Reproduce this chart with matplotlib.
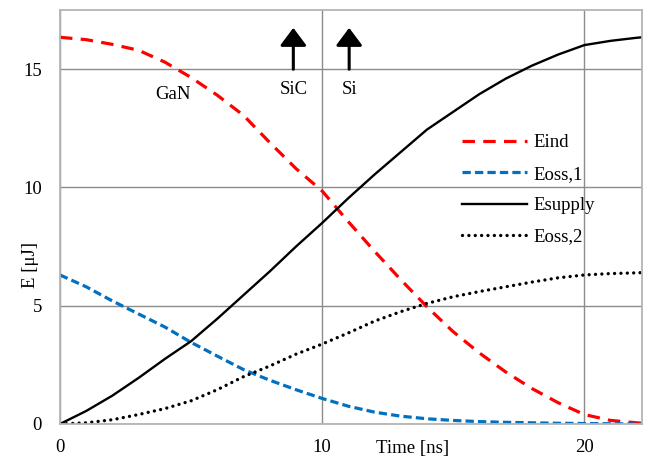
import matplotlib
matplotlib.use("Agg")
import matplotlib.pyplot as plt

plt.rcParams["font.family"] = ["Liberation Serif", "DejaVu Serif"]
plt.rcParams["font.size"] = 13.5

# Switching energies vs time (ns), values in uJ
t_ns = [0, 1, 2, 3, 4, 5, 6, 7, 8, 9, 10, 11, 12, 13, 14, 15, 16, 17, 18, 19, 20, 21, 22, 22.2]
e_ind = [16.35, 16.25, 16.05, 15.8, 15.3, 14.65, 13.9, 13.05, 11.9, 10.8, 9.85, 8.55, 7.3,
         6.1, 4.95, 3.9, 3.0, 2.2, 1.5, 0.9, 0.4, 0.15, 0.05, 0.03]
e_oss1 = [6.3, 5.8, 5.2, 4.65, 4.1, 3.45, 2.87, 2.3, 1.85, 1.45, 1.08, 0.75, 0.5,
          0.33, 0.22, 0.15, 0.1, 0.07, 0.05, 0.03, 0.02, 0.01, 0.0, 0.0]
e_supply = [0, 0.55, 1.2, 1.95, 2.75, 3.5, 4.45, 5.45, 6.45, 7.5, 8.5, 9.55, 10.55,
            11.5, 12.45, 13.2, 13.95, 14.6, 15.15, 15.62, 16.02, 16.2, 16.33, 16.35]
e_oss2 = [0, 0.05, 0.18, 0.4, 0.65, 0.98, 1.45, 2.0, 2.45, 2.95, 3.38, 3.85, 4.35,
          4.75, 5.1, 5.38, 5.6, 5.8, 6.0, 6.18, 6.3, 6.36, 6.39, 6.4]

# Turn-off markers for the different device technologies
arrow_labels = ["SiC", "Si"]
arrow_x = [8.9, 11.03]
gan_x, gan_y = 4.3, 13.95

fig = plt.figure(figsize=(6.5, 4.59), dpi=100)
ax = fig.add_axes([0.0923, 0.0763, 0.8954, 0.9017])

ax.plot(t_ns, e_ind, color="#ff0000", lw=2.3, dashes=(3.9, 2.6), label="Eind")
ax.plot(t_ns, e_oss1, color="#0070c0", lw=2.3, dashes=(2.6, 1.3), label="Eoss,1")
ax.plot(t_ns, e_supply, color="black", lw=1.7, label="Esupply")
ax.plot(t_ns, e_oss2, color="black", lw=2.4, dashes=(0.01, 1.9),
        dash_capstyle="round", label="Eoss,2")

ax.set_xlim(0, 22.2)
ax.set_ylim(0, 17.5)
ax.set_xticks([0, 10, 20])
ax.set_yticks([0, 5, 10, 15])
ax.tick_params(length=0)
ax.tick_params(axis="y", pad=13)
ax.tick_params(axis="x", pad=11)
ax.grid(True, color="#8c8c8c", lw=1)
ax.set_axisbelow(True)
for sp in ax.spines.values():
    sp.set_color("#b4b4b4")
    sp.set_linewidth(1.3)

ax.text(13.45, -1.22, "Time [ns]", ha="center", va="baseline")
ax.text(-0.05, 0.384, "E [\u03bcJ]", rotation=90, ha="center", va="center",
        transform=ax.transAxes)

for name, x in zip(arrow_labels, arrow_x):
    ax.annotate("", xy=(x, 16.75), xytext=(x, 15.0), fontsize=13,
                arrowprops=dict(arrowstyle="-|>,head_length=0.83,head_width=0.62",
                                color="black", lw=2.2, shrinkA=0, shrinkB=0))
    ax.text(x, 14.15, name, ha="center", va="center")
ax.text(gan_x, gan_y, "GaN", ha="center", va="center")

ax.legend(loc="upper left", bbox_to_anchor=(0.69, 0.70), frameon=False,
          handlelength=3.5, handletextpad=0.35, labelspacing=0.76, borderpad=0,
          borderaxespad=0)

fig.savefig("out.png", dpi=100)
